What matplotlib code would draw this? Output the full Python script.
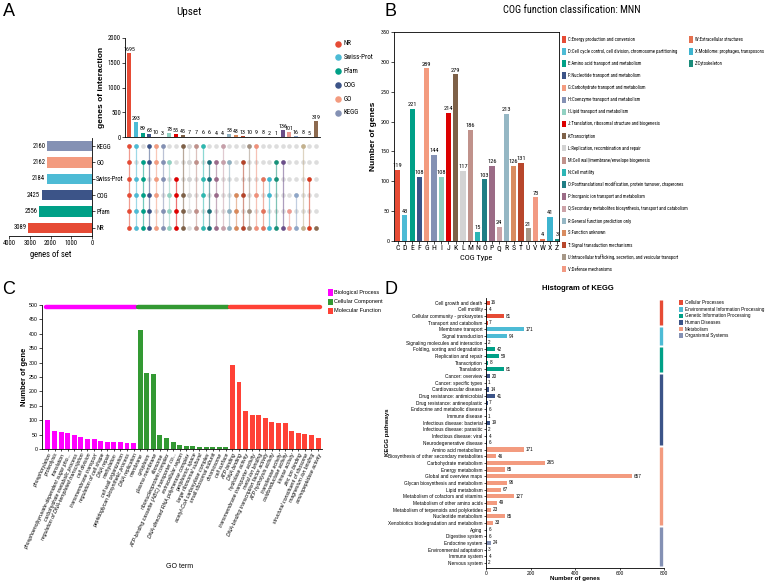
import matplotlib
matplotlib.use('Agg')
import matplotlib.pyplot as plt
from matplotlib import font_manager
from matplotlib.font_manager import FontProperties
from matplotlib.patches import Rectangle
import numpy as np

names = {f.name for f in font_manager.fontManager.ttflist}
base = 'Liberation Sans' if 'Liberation Sans' in names else 'DejaVu Sans'
plt.rcParams['font.family'] = base
plt.rcParams['axes.linewidth'] = 0.6

# look for a condensed face for the narrow labels of panels A and B
skip = ['Bold', 'Italic', 'Light', 'Thin', 'Black', 'Medium', 'Semi', 'Extra', 'Oblique']
cands = [f.fname for f in font_manager.fontManager.ttflist
         if ('Condensed' in f.fname or 'Narrow' in f.fname)
         and not any(s in f.fname.split('/')[-1] for s in skip)]
prefer = ['LiberationSansNarrow', 'RobotoCondensed', 'NotoSans-Condensed', 'NotoSans_Condensed',
          'DejaVuSansCondensed', 'OpenSans']
narrow_path = None
for key in prefer:
    hits = [c for c in cands if key in c]
    if hits:
        narrow_path = sorted(hits, key=len)[0]
        break
if narrow_path is None and cands:
    narrow_path = sorted(cands, key=len)[0]


def nfp(size):
    if narrow_path:
        return FontProperties(fname=narrow_path, size=size)
    return FontProperties(family=base, size=size * 0.8)


# ---------------- data: panel A (upset) ----------------
set_names = ['NR', 'Pfam', 'COG', 'Swiss-Prot', 'GO', 'KEGG']   # bottom -> top
set_sizes = [3089, 2556, 2425, 2184, 2162, 2160]
set_colors = ['#E64B35', '#00A087', '#3C5488', '#4DBBD5', '#F39B7F', '#8491B4']

inter_counts = [1695, 293, 89, 63, 10, 3, 78, 55, 45, 7, 7, 6, 6, 4, 4,
                53, 43, 13, 10, 9, 8, 2, 1, 136, 101, 16, 8, 5, 319]
inter_sets = ['NPCSGK', 'NPCSK', 'NPCSG', 'NPCGK', 'NCSGK', 'NPSGK', 'NPCG', 'NPCS',
              'NPCK', 'PCSGK', 'NPGK', 'NCSK', 'NPSG', 'NCSG', 'NGK', 'NPG', 'NPC',
              'NCG', 'NPK', 'NCK', 'NPS', 'NCS', 'NSG', 'NG', 'NP', 'NC', 'NK', 'NS', 'N']
inter_colors = ['#E64B35', '#4DBBD5', '#00A087', '#3C5488', '#F39B7F', '#8491B4', '#91D1C2',
                '#E00000', '#7E6148', '#D3D3D3', '#C0908A', '#2EB8B0', '#1C6F7A', '#9A6A8A',
                '#C7A0AA', '#8FB0C0', '#D9895A', '#B4442A', '#A39282', '#F0907A', '#E3735B',
                '#3FB7CF', '#17927A', '#6B4F8A', '#EE9A90', '#8EA6C8', '#C4B28E', '#D73A1E',
                '#8C6A4F']
letter_row = {'N': 0, 'P': 1, 'C': 2, 'S': 3, 'G': 4, 'K': 5}
legend_a = ['NR', 'Swiss-Prot', 'Pfam', 'COG', 'GO', 'KEGG']
legend_a_colors = ['#E64B35', '#4DBBD5', '#00A087', '#3C5488', '#F39B7F', '#8491B4']

# ---------------- data: panel B (COG) ----------------
cog_codes = list('CDEFGHIJKLMNOPQRSTUVWXZ')
cog_counts = [119, 43, 221, 108, 289, 144, 108, 214, 279, 117, 186, 15, 103, 126, 24,
              213, 126, 131, 21, 73, 4, 41, 3]
cog_colors = ['#E64B35', '#4DBBD5', '#00A087', '#3C5488', '#F39B7F', '#8491B4', '#91D1C2',
              '#DC0000', '#7E6148', '#D3D3D3', '#C0928B', '#2CB5B5', '#1F7E85', '#9B6B86',
              '#CDA3A8', '#95B7C4', '#D98C60', '#B8472C', '#A69888', '#F29A83', '#E5704F',
              '#3DB4CF', '#1A8C7B']
cog_desc = ['Energy production and conversion',
            'Cell cycle control, cell division, chromosome partitioning',
            'Amino acid transport and metabolism',
            'Nucleotide transport and metabolism',
            'Carbohydrate transport and metabolism',
            'Coenzyme transport and metabolism',
            'Lipid transport and metabolism',
            'Translation, ribosomal structure and biogenesis',
            'Transcription',
            'Replication, recombination and repair',
            'Cell wall/membrane/envelope biogenesis',
            'Cell motility',
            'Posttranslational modification, protein turnover, chaperones',
            'Inorganic ion transport and metabolism',
            'Secondary metabolites biosynthesis, transport and catabolism',
            'General function prediction only',
            'Function unknown',
            'Signal transduction mechanisms',
            'Intracellular trafficking, secretion, and vesicular transport',
            'Defense mechanisms',
            'Extracellular structures',
            'Mobilome: prophages, transposons',
            'Cytoskeleton']

# ---------------- data: panel C (GO) ----------------
bp_terms = ['phosphorylation', 'proteolysis', 'translation',
            'phosphoenolpyruvate-dependent sugar pho...', 'carbohydrate metabolic process',
            'regulation of DNA-templated transcription', 'cell division',
            'transmembrane transport', 'regulation of cell shape', 'DNA repair',
            'methylation', 'cell wall organization', 'peptidoglycan biosynthetic process',
            'DNA replication']
bp_counts = [100, 62, 58, 57, 50, 43, 36, 36, 27, 26, 26, 26, 21, 20]
cc_terms = ['membrane', 'cytoplasm', 'plasma membrane', 'ribosome',
            'ribonucleoprotein complex', 'ATP-binding cassette (ABC) transporter co...',
            'extracellular region', 'DNA-directed RNA polymerase complex',
            'periplasmic space', 'large ribosomal subunit', 'acetyl-CoA carboxylase complex',
            'small ribosomal subunit', 'chromosome', 'cell surface']
cc_counts = [414, 263, 260, 50, 38, 23, 13, 12, 9, 8, 8, 7, 7, 6]
mf_terms = ['ATP binding', 'DNA binding', 'hydrolase activity',
            'transmembrane transporter activity', 'metal ion binding',
            'DNA-binding transcription factor activity', 'ATP hydrolysis activity',
            'transferase activity', 'oxidoreductase activity', 'kinase activity',
            'zinc ion binding', 'structural constituent of ribosome',
            'magnesium ion binding', 'aminopeptidase activity']
mf_counts = [290, 234, 131, 119, 118, 106, 93, 92, 92, 61, 55, 51, 48, 39]
go_groups = ['Biological Process', 'Cellular Component', 'Molecular Function']
go_colors = ['#FF00FF', '#339933', '#FF4136']

# ---------------- data: panel D (KEGG) ----------------
kegg_groups = ['Cellular Processes', 'Environmental Information Processing',
               'Genetic Information Processing', 'Human Diseases', 'Metabolism',
               'Organismal Systems']
kegg_group_colors = ['#E64B35', '#4DBBD5', '#00A087', '#3C5488', '#F39B7F', '#8491B4']
kegg_paths = [
    ['Cell growth and death', 'Cell motility', 'Cellular community - prokaryotes',
     'Transport and catabolism'],
    ['Membrane transport', 'Signal transduction', 'Signaling molecules and interaction'],
    ['Folding, sorting and degradation', 'Replication and repair', 'Transcription',
     'Translation'],
    ['Cancer: overview', 'Cancer: specific types', 'Cardiovascular disease',
     'Drug resistance: antimicrobial', 'Drug resistance: antineoplastic',
     'Endocrine and metabolic disease', 'Immune disease', 'Infectious disease: bacterial',
     'Infectious disease: parasitic', 'Infectious disease: viral',
     'Neurodegenerative disease'],
    ['Amino acid metabolism', 'Biosynthesis of other secondary metabolites',
     'Carbohydrate metabolism', 'Energy metabolism', 'Global and overview maps',
     'Glycan biosynthesis and metabolism', 'Lipid metabolism',
     'Metabolism of cofactors and vitamins', 'Metabolism of other amino acids',
     'Metabolism of terpenoids and polyketides', 'Nucleotide metabolism',
     'Xenobiotics biodegradation and metabolism'],
    ['Aging', 'Digestive system', 'Endocrine system', 'Environmental adaptation',
     'Immune system', 'Nervous system'],
]
kegg_counts = [
    [16, 4, 81, 7],
    [171, 94, 2],
    [42, 59, 8, 81],
    [20, 1, 14, 41, 7, 6, 1, 19, 2, 4, 6],
    [171, 46, 265, 85, 657, 96, 67, 127, 49, 23, 85, 33],
    [6, 6, 24, 3, 4, 2],
]

# ---------------- layout helpers (pixel boxes) ----------------
W, H = 767, 583


def px(x0, y0, x1, y1):
    return [x0 / W, 1 - y1 / H, (x1 - x0) / W, (y1 - y0) / H]


fig = plt.figure(figsize=(W / 100, H / 100), dpi=100)
ov = fig.add_axes([0, 0, 1, 1])
ov.set_xlim(0, W)
ov.set_ylim(H, 0)
ov.axis('off')

for lab, (lx, ly) in zip('ABCD', [(9, 12), (391, 12), (9, 289), (391, 289)]):
    ov.text(lx, ly, lab, fontsize=13, ha='center', va='center')

# ================= Panel A =================
ncol = len(inter_counts)
xi = np.arange(ncol)
ax_i = fig.add_axes(px(125, 38, 320, 137))
ax_i.bar(xi, inter_counts, width=0.62, color=inter_colors)
for x, v in zip(xi, inter_counts):
    ax_i.text(x, v + 25, str(v), ha='center', va='bottom', fontproperties=nfp(4.3))
ax_i.set_xlim(-0.65, ncol - 0.4)
ax_i.set_ylim(0, 2000)
ax_i.set_yticks([0, 500, 1000, 1500, 2000])
ax_i.set_xticks([])
ax_i.spines[['top', 'right']].set_visible(False)
ax_i.tick_params(axis='y', length=2, width=0.5, pad=1)
for t in ax_i.get_yticklabels():
    t.set_fontproperties(nfp(4.8))
ax_i.set_ylabel('genes of interaction', fontsize=6, fontweight='bold', labelpad=2)
ov.text(189, 12, 'Upset', ha='center', va='center', fontproperties=nfp(8))

ax_m = fig.add_axes(px(125, 138, 320, 236))
ax_m.set_xlim(-0.65, ncol - 0.4)
ax_m.set_ylim(-0.5, 5.5)
ax_m.axis('off')
for r in range(6):
    ax_m.scatter(xi, np.full(ncol, r), s=11, color='#DDDDDD', linewidths=0, zorder=1)
for x, members, c in zip(xi, inter_sets, inter_colors):
    rows = [letter_row[ch] for ch in members]
    if len(rows) > 1:
        ax_m.plot([x, x], [min(rows), max(rows)], color=c, lw=0.9, alpha=0.55, zorder=2)
    ax_m.scatter([x] * len(rows), rows, s=11, color=c, linewidths=0, zorder=3)

ax_s = fig.add_axes(px(9, 138, 92, 236))
ys = np.arange(len(set_names))
ax_s.barh(ys, set_sizes, height=0.62, color=set_colors)
for y, v in zip(ys, set_sizes):
    ax_s.text(v + 80, y, str(v), ha='right', va='center', fontproperties=nfp(4.8))
ax_s.set_xlim(4000, 0)
ax_s.set_ylim(-0.5, 5.5)
ax_s.yaxis.tick_right()
ax_s.set_yticks(ys, set_names)
ax_s.set_xticks([4000, 3000, 2000, 1000, 0])
ax_s.spines[['top', 'left']].set_visible(False)
ax_s.tick_params(length=2, width=0.5, pad=1)
for t in ax_s.get_xticklabels() + ax_s.get_yticklabels():
    t.set_fontproperties(nfp(4.8))
ax_s.set_xlabel('genes of set', fontproperties=nfp(6.2), labelpad=2)

for i, (lab, c) in enumerate(zip(legend_a, legend_a_colors)):
    yy = 43.5 + i * 13.9
    ov.scatter([338], [yy], s=22, color=c, linewidths=0)
    ov.text(344, yy, lab, va='center', fontproperties=nfp(5))

# ================= Panel B =================
ax_b = fig.add_axes(px(394, 32, 559, 241))
xb = np.arange(len(cog_codes))
ax_b.bar(xb, cog_counts, width=0.72, color=cog_colors)
for x, v in zip(xb, cog_counts):
    ax_b.text(x, v + 3, str(v), ha='center', va='bottom', fontproperties=nfp(4.6))
ax_b.set_xlim(-0.5, len(cog_codes) - 0.75)
ax_b.set_ylim(0, 350)
ax_b.set_yticks(np.arange(0, 351, 50))
ax_b.set_xticks(xb, cog_codes)
ax_b.tick_params(length=2, width=0.5, pad=1)
for t in ax_b.get_yticklabels():
    t.set_fontproperties(nfp(4.3))
for t in ax_b.get_xticklabels():
    t.set_fontproperties(nfp(5.6))
ax_b.set_xlabel('COG Type', fontproperties=nfp(6), labelpad=3)
ax_b.set_ylabel('Number of genes', fontsize=6, fontweight='bold', labelpad=3)
ov.text(572, 10, 'COG function classification: MNN', ha='center', va='center',
        fontproperties=nfp(7.5))

leg_size = 3.45 if narrow_path else 3.2
for i, (code, desc, c) in enumerate(zip(cog_codes, cog_desc, cog_colors)):
    if i < 20:
        lx, ly = 562, 39.3 + i * 12.1
    else:
        lx, ly = 689, 39.3 + (i - 20) * 12.1
    ov.add_patch(Rectangle((lx, ly - 3.2), 4.3, 6.4, color=c, lw=0))
    ov.text(lx + 6, ly, f'{code}:{desc}', va='center', fontproperties=nfp(leg_size))

# ================= Panel C =================
go_counts = bp_counts + cc_counts + mf_counts
go_terms = bp_terms + cc_terms + mf_terms
sizes = [len(bp_counts), len(cc_counts), len(mf_counts)]
bar_colors = sum([[c] * n for c, n in zip(go_colors, sizes)], [])
xc = np.arange(len(go_counts))
ax_c = fig.add_axes(px(42, 305, 322, 449))
ax_c.bar(xc, go_counts, width=0.75, color=bar_colors)
ax_c.set_xlim(-0.9, len(go_counts) - 0.4)
ax_c.set_ylim(0, 500)
ax_c.set_yticks(np.arange(0, 501, 50))
ax_c.set_xticks(xc, go_terms, rotation=65, ha='right', rotation_mode='anchor',
                fontsize=3.8, style='italic')
ax_c.spines[['top', 'right']].set_visible(False)
ax_c.tick_params(axis='y', labelsize=3.8, length=2, width=0.5, pad=1)
ax_c.tick_params(axis='x', length=1.5, width=0.5, pad=1)
ax_c.set_ylabel('Number of gene', fontsize=5.5, fontweight='bold')
ax_c.yaxis.set_label_coords(-0.05, 0.5)
start = 0
for n, c in zip(sizes, go_colors):
    ax_c.plot([start - 0.3, start + n - 0.7], [492, 492], color=c, lw=3.2,
              solid_capstyle='round', clip_on=False)
    start += n
ov.text(180, 567, 'GO term', fontsize=5, ha='center', va='center')
for i, (lab, c) in enumerate(zip(go_groups, go_colors)):
    ly = 292.6 + i * 9.1
    ov.add_patch(Rectangle((328, ly - 3.2), 4.5, 6.4, color=c, lw=0))
    ov.text(334, ly, lab, fontsize=4, va='center')

# ================= Panel D =================
k_names = sum(kegg_paths, [])
k_vals = sum(kegg_counts, [])
k_cols = sum([[c] * len(p) for c, p in zip(kegg_group_colors, kegg_paths)], [])
yd = np.arange(len(k_vals))
ax_d = fig.add_axes(px(486, 298, 664, 568))
ax_d.barh(yd, k_vals, height=0.62, color=k_cols)
for y, v in zip(yd, k_vals):
    ax_d.text(v + 7, y, str(v), va='center', fontsize=3.3)
ax_d.set_xlim(0, 800)
ax_d.set_ylim(len(k_vals) - 0.25, -0.7)
ax_d.set_yticks(yd, k_names, fontsize=3.4)
ax_d.set_xticks([0, 200, 400, 600, 800])
ax_d.spines[['top', 'right']].set_visible(False)
ax_d.tick_params(axis='x', labelsize=3.5, length=1.5, width=0.5, pad=0.8)
ax_d.tick_params(axis='y', length=1.5, width=0.5, pad=1)
start = 0
for p, c in zip(kegg_paths, kegg_group_colors):
    ax_d.plot([786, 786], [start - 0.38, start + len(p) - 0.62], color=c, lw=2.4,
              solid_capstyle='butt', clip_on=False)
    start += len(p)
ov.text(578, 288, 'Histogram of KEGG', fontsize=5.5, fontweight='bold',
        ha='center', va='center')
ov.text(575, 578.5, 'Number of genes', fontsize=4.4, fontweight='bold',
        ha='center', va='center')
ov.text(388, 432, 'KEGG pathways', fontsize=4.4, fontweight='bold', rotation=90,
        ha='center', va='center')
for i, (lab, c) in enumerate(zip(kegg_groups, kegg_group_colors)):
    ly = 302.7 + i * 6.6
    ov.add_patch(Rectangle((679, ly - 2.3), 4.2, 4.6, color=c, lw=0))
    ov.text(685, ly, lab, fontsize=3.3, va='center')

fig.savefig('out.png', dpi=100)
